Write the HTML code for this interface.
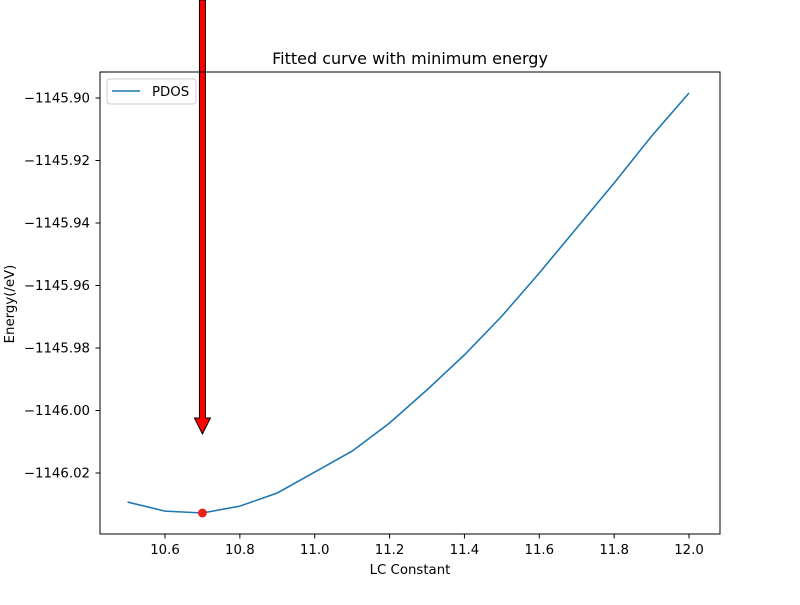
<!DOCTYPE html>
<html><head><meta charset="utf-8"><style>
body{margin:0;background:#fff}
svg{font-family:"DejaVu Sans","Liberation Sans",sans-serif}
</style></head><body>
<svg id="chart" width="800" height="600" xmlns="http://www.w3.org/2000/svg">
<rect width="800" height="600" fill="#fff"/>
<text x="410" y="64" font-size="16" text-anchor="middle">Fitted curve with minimum energy</text>
<g id="xt"></g>
<g id="yt"></g>
<text x="410" y="574" font-size="13.3" text-anchor="middle">LC Constant</text>
<text transform="translate(14,304) rotate(-90)" font-size="13.3" text-anchor="middle">Energy(/eV)</text>
<polyline id="line" fill="none" stroke="#1f77b4" stroke-width="1.6"/>
<circle id="minpt" r="4.5" fill="#e8231c"/>
<polygon id="arrow" fill="#ff0000" stroke="#000" stroke-width="1"/>
<rect x="100" y="72" width="620" height="462" fill="none" stroke="#000" stroke-width="1"/>
<g>
<rect x="107" y="79" width="89" height="25" rx="3" fill="#fff" stroke="#ccc"/>
<line x1="112" y1="91" x2="140" y2="91" stroke="#1f77b4" stroke-width="1.6"/>
<text x="152" y="96" font-size="13.3">PDOS</text>
</g>
</svg>
<script>
const lcValues=[10.5,10.6,10.7,10.8,10.9,11.0,11.1,11.2,11.3,11.4,11.5,11.6,11.7,11.8,11.9,12.0];
const energyValues=[-1146.0293,-1146.0322,-1146.0328,-1146.0306,-1146.0264,-1146.0197,-1146.0130,-1146.0040,-1145.9934,-1145.9822,-1145.9698,-1145.9560,-1145.9416,-1145.9272,-1145.9122,-1145.8984];
const xTicks=[10.6,10.8,11.0,11.2,11.4,11.6,11.8,12.0];
const yTicks=[-1145.90,-1145.92,-1145.94,-1145.96,-1145.98,-1146.00,-1146.02];
const minLC=10.7, minE=-1146.0328;
const X=v=>165+(v-10.6)*374.3;
const Y=v=>98+(-1145.90-v)*3125;
const NS="http://www.w3.org/2000/svg";
const xt=document.getElementById('xt'), yt=document.getElementById('yt');
xTicks.forEach(t=>{
  const l=document.createElementNS(NS,'line');
  l.setAttribute('x1',X(t));l.setAttribute('x2',X(t));l.setAttribute('y1',534);l.setAttribute('y2',538.5);l.setAttribute('stroke','#000');
  
  
  xt.appendChild(l);
  const s=document.createElementNS(NS,'text');
  s.setAttribute('x',X(t));s.setAttribute('y',554);s.setAttribute('font-size','13.3');s.setAttribute('text-anchor','middle');
  s.textContent=t.toFixed(1);
  
  
  xt.appendChild(s);
});
yTicks.forEach(t=>{
  const l=document.createElementNS(NS,'line');
  l.setAttribute('x1',95.5);l.setAttribute('x2',100);l.setAttribute('y1',Y(t));l.setAttribute('y2',Y(t));l.setAttribute('stroke','#000');
  
  
  yt.appendChild(l);
  const s=document.createElementNS(NS,'text');
  s.setAttribute('x',90);s.setAttribute('y',Y(t)+4.5);s.setAttribute('font-size','13.3');s.setAttribute('text-anchor','end');
  s.textContent='\u2212'+Math.abs(t).toFixed(2);
  
  
  yt.appendChild(s);
});
document.getElementById('line').setAttribute('points',lcValues.map((v,i)=>X(v)+','+Y(energyValues[i])).join(' '));
const mp=document.getElementById('minpt');
mp.setAttribute('cx',X(minLC));mp.setAttribute('cy',Y(minE));
const ax=X(minLC), tipY=434, headY=418;
document.getElementById('arrow').setAttribute('points',
 [[ax-3,0],[ax+3,0],[ax+3,headY],[ax+8,headY],[ax,tipY],[ax-8,headY],[ax-3,headY]].map(p=>p.join(',')).join(' '));
</script>
</body></html>
